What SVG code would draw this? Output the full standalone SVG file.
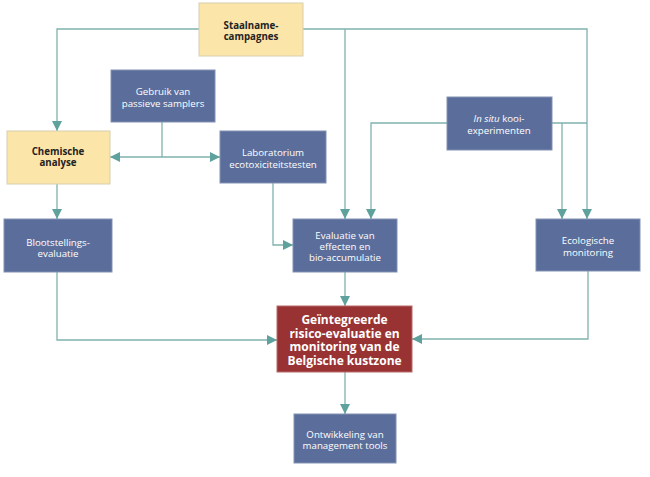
<svg xmlns="http://www.w3.org/2000/svg" width="650" height="477" viewBox="0 0 650 477">
<defs>
<marker id="ah" viewBox="0 0 10 10" refX="10" refY="5" markerWidth="10" markerHeight="10" markerUnits="userSpaceOnUse" orient="auto">
<path d="M0,0 L10,5 L0,10 z" fill="#5fa29d"/>
</marker>
</defs>
<style>
.bg{fill:#ffffff}
.blue{fill:#5b6e9b;stroke:#8391b3;stroke-width:1}
.yel{fill:#fce5a8;stroke:#d8cfae;stroke-width:1}
.red{fill:#993333;stroke:#b86a6a;stroke-width:1}
.t{font-family:"Open Sans","DejaVu Sans",sans-serif;font-size:9.7px;fill:#ffffff;text-anchor:middle}
.tb{font-family:"Open Sans","DejaVu Sans",sans-serif;font-size:9.7px;font-weight:bold;fill:#222222;text-anchor:middle}
.tr{font-family:"Open Sans","DejaVu Sans",sans-serif;font-size:12px;font-weight:bold;fill:#ffffff;text-anchor:middle}
.c{fill:none;stroke:#7fb2ae;stroke-width:1.3}
.ca{fill:none;stroke:#7fb2ae;stroke-width:1.3;marker-end:url(#ah)}
</style>
<rect class="bg" x="0" y="0" width="650" height="477"/>
<g id="connectors">
<path class="ca" d="M199,29 H57 V131"/>
<path class="ca" d="M303,29 H587 V219"/>
<path class="ca" d="M345,29 V219"/>
<path class="c" d="M162,122 V157"/>
<path class="ca" d="M162,157 H110"/>
<path class="ca" d="M162,157 H220"/>
<path class="ca" d="M57,184 V219"/>
<path class="ca" d="M273,183 V245 H293"/>
<path class="ca" d="M447,123 H371 V219"/>
<path class="c" d="M552,123 H587"/>
<path class="ca" d="M562,123 V219"/>
<path class="ca" d="M57,272 V340 H277"/>
<path class="ca" d="M588,271 V339 H412"/>
<path class="ca" d="M345,272 V306"/>
<path class="ca" d="M345,372 V414"/>
</g>
<g id="staalname">
<rect class="yel" x="199" y="3" width="104" height="53"/>
<text class="tb" x="251" y="28.5">Staalname-</text>
<text class="tb" x="251" y="40">campagnes</text>
</g>
<g id="gebruik">
<rect class="blue" x="111" y="70" width="104" height="52"/>
<text class="t" x="163" y="94.5">Gebruik van</text>
<text class="t" x="163" y="106.5">passieve samplers</text>
</g>
<g id="chemische">
<rect class="yel" x="7" y="131" width="103" height="53"/>
<text class="tb" x="58" y="154.5">Chemische</text>
<text class="tb" x="58" y="166">analyse</text>
</g>
<g id="laboratorium">
<rect class="blue" x="220" y="131" width="106" height="52"/>
<text class="t" x="273" y="155.5">Laboratorium</text>
<text class="t" x="273" y="168">ecotoxiciteitstesten</text>
</g>
<g id="insitu">
<rect class="blue" x="447" y="97" width="105" height="53"/>
<text class="t" x="499" y="121.5"><tspan font-style="italic">In situ</tspan> kooi-</text>
<text class="t" x="499" y="133.5">experimenten</text>
</g>
<g id="blootstellings">
<rect class="blue" x="4" y="219" width="108" height="53"/>
<text class="t" x="58" y="245.5">Blootstellings-</text>
<text class="t" x="58" y="256.5">evaluatie</text>
</g>
<g id="evaluatie">
<rect class="blue" x="293" y="219" width="104" height="53"/>
<text class="t" x="345" y="238.5">Evaluatie van</text>
<text class="t" x="345" y="249.5">effecten en</text>
<text class="t" x="345" y="260.5">bio-accumulatie</text>
</g>
<g id="ecologische">
<rect class="blue" x="536" y="219" width="104" height="52"/>
<text class="t" x="588" y="243.5">Ecologische</text>
<text class="t" x="588" y="255.5">monitoring</text>
</g>
<g id="geintegreerde">
<rect class="red" x="277" y="306" width="135" height="66"/>
<text class="tr" x="344.5" y="323.5">Geïntegreerde</text>
<text class="tr" x="344.5" y="337.5">risico-evaluatie en</text>
<text class="tr" x="344.5" y="351">monitoring van de</text>
<text class="tr" x="344.5" y="364.5">Belgische kustzone</text>
</g>
<g id="ontwikkeling">
<rect class="blue" x="294" y="414" width="102" height="49"/>
<text class="t" x="345" y="437.5">Ontwikkeling van</text>
<text class="t" x="345" y="448.5">management tools</text>
</g>
</svg>
